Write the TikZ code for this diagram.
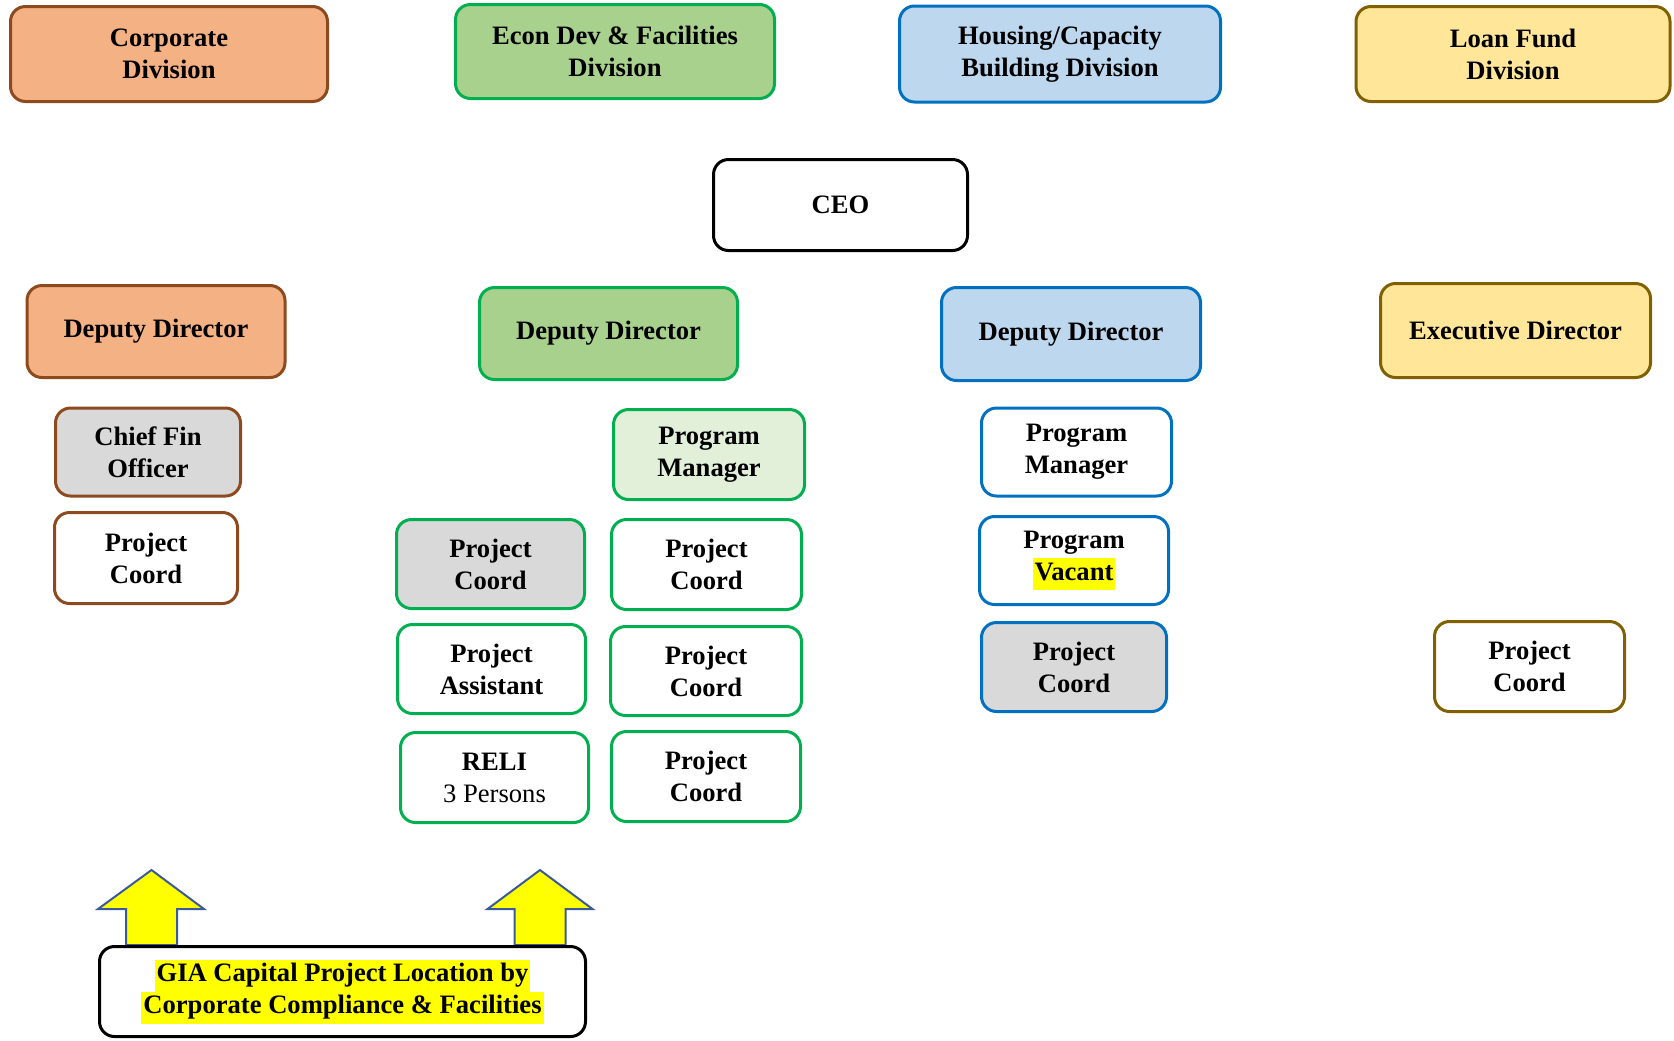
\documentclass[tikz,border=0pt]{standalone}
\usepackage{fontspec}
\setmainfont{Liberation Serif}
\definecolor{orgfill}{HTML}{F4B183}
\definecolor{orgline}{HTML}{8C4A1E}
\definecolor{grnfill}{HTML}{A9D18E}
\definecolor{grnlight}{HTML}{E2F0D9}
\definecolor{grnline}{HTML}{00B050}
\definecolor{blufill}{HTML}{BDD7EE}
\definecolor{bluline}{HTML}{0070C0}
\definecolor{ylwfill}{HTML}{FFE699}
\definecolor{ylwline}{HTML}{806000}
\definecolor{grayfill}{HTML}{D9D9D9}
\definecolor{hlyellow}{HTML}{FFFF00}
\definecolor{arrline}{HTML}{3A5A9C}
\newcommand\hlt[1]{{\setlength{\fboxsep}{0pt}\colorbox{hlyellow}{\strut\kern1pt #1\kern1pt}}}
\tikzset{
  box/.style={draw, rounded corners=7.5pt, line width=1.5pt, align=center,
    font=\fontsize{13.3}{16}\selectfont\bfseries, inner sep=0pt, fill=white},
  sz/.style 2 args={minimum width={(#1-3)*0.5pt}, minimum height={(#2-3)*0.5pt}},
  orgbox/.style={box, draw=orgline},
  grnbox/.style={box, draw=grnline},
  blubox/.style={box, draw=bluline},
  ylwbox/.style={box, draw=ylwline},
  blkbox/.style={box, draw=black},
  uparrow/.style={fill=hlyellow, draw=arrline, line width=1pt, line join=miter}
}
\begin{document}
\begin{tikzpicture}[x=0.5pt, y=-0.5pt]
\useasboundingbox (0,0) rectangle (1674,1040);
% division row
\node[orgbox, fill=orgfill, sz={320}{98}] (corp) at (169,54) {Corporate\\Division};
\node[grnbox, fill=grnfill, sz={322}{97}] (econ) at (615,51.5) {Econ Dev \& Facilities\\Division};
\node[blubox, fill=blufill, sz={324}{99}] (hous) at (1060,54) {Housing/Capacity\\Building Division};
\node[ylwbox, fill=ylwfill, sz={317}{98}] (loan) at (1513,54) {Loan Fund\\Division};
% CEO
\node[blkbox, sz={257}{94}] (ceo) at (840.5,205) {CEO};
% directors
\node[orgbox, fill=orgfill, sz={261}{95}] (dd1) at (156,331.5) {Deputy Director};
\node[grnbox, fill=grnfill, sz={261}{95}] (dd2) at (608.5,333.5) {Deputy Director};
\node[blubox, fill=blufill, sz={262}{96}] (dd3) at (1071,334) {Deputy Director};
\node[ylwbox, fill=ylwfill, sz={273}{97}] (exec) at (1515.5,330.5) {Executive Director};
% corporate staff
\node[orgbox, fill=grayfill, sz={188}{91}] (cfo) at (148,452) {Chief Fin\\Officer};
\node[orgbox, sz={186}{94}] (pc1) at (146,558) {Project\\Coord};
% econ dev staff
\node[grnbox, fill=grnlight, sz={194}{93}] (pm2) at (709,454.5) {Program\\Manager};
\node[grnbox, fill=grayfill, sz={191}{92}] (pc2a) at (490.5,564) {Project\\Coord};
\node[grnbox, sz={193}{93}] (pc2b) at (706.5,564.5) {Project\\Coord};
\node[grnbox, sz={191}{92}] (pa2) at (491.5,669) {Project\\Assistant};
\node[grnbox, sz={194}{92}] (pc2c) at (706,671) {Project\\Coord};
\node[grnbox, sz={191}{93}] (reli) at (494.5,777.5) {RELI\\{\mdseries 3 Persons}};
\node[grnbox, sz={192}{93}] (pc2d) at (706,776.5) {Project\\Coord};
% housing staff
\node[blubox, sz={193}{91}] (pm3) at (1076.5,452) {Program\\Manager};
\node[blubox, sz={192}{91}] (pv3) at (1074,560.5) {Program\\\hlt{Vacant}};
\node[blubox, fill=grayfill, sz={188}{92}] (pc3) at (1074,667) {Project\\Coord};
% loan fund staff
\node[ylwbox, sz={193}{93}] (pc4) at (1529.5,666.5) {Project\\Coord};
% GIA arrows and box
\draw[uparrow] (126,945) -- (126,909) -- (98,909) -- (151.5,870) -- (204,909) -- (177,909) -- (177,945) -- cycle;
\draw[uparrow] (514.5,945) -- (514.5,909) -- (487.5,909) -- (540,870) -- (592.5,909) -- (565.5,909) -- (565.5,945) -- cycle;
\node[blkbox, sz={489}{93}] (gia) at (342.5,991.5) {\hlt{GIA Capital Project Location by}\\\hlt{Corporate Compliance \& Facilities}};
\end{tikzpicture}
\end{document}
